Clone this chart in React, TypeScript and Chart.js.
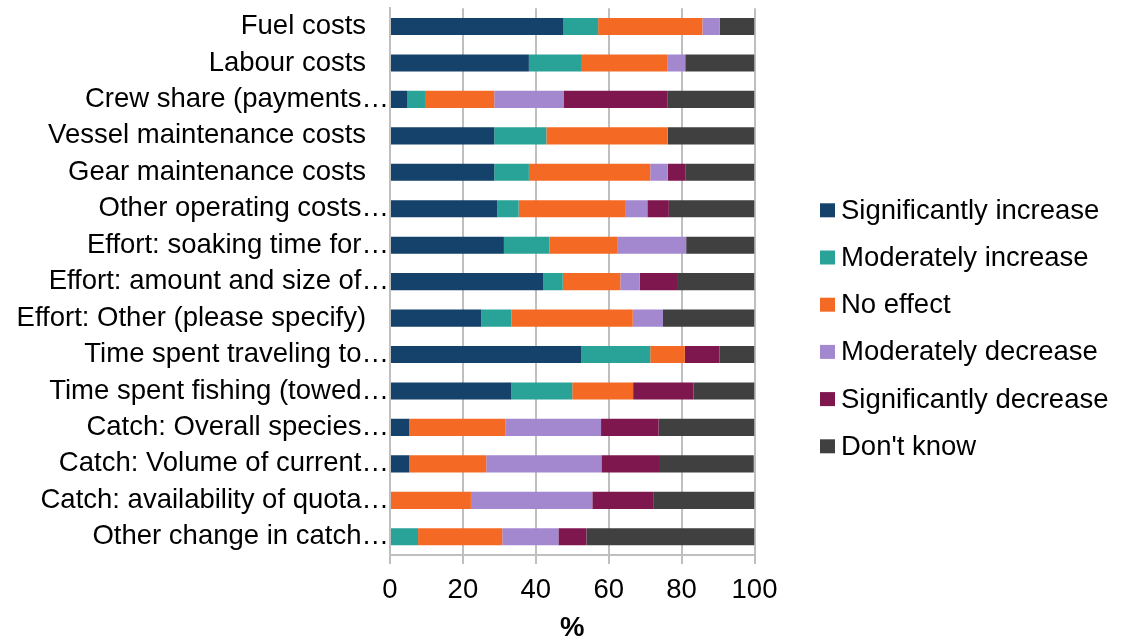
import React, { useEffect, useRef } from 'react';
import { Chart, registerables } from 'chart.js';

Chart.register(...registerables);

const FONT = '"Liberation Sans", Arial, Helvetica, sans-serif';

const categories = [
  'Fuel costs',
  'Labour costs',
  'Crew share (payments…',
  'Vessel maintenance costs',
  'Gear maintenance costs',
  'Other operating costs…',
  'Effort: soaking time for…',
  'Effort: amount and size of…',
  'Effort: Other (please specify)',
  'Time spent traveling to…',
  'Time spent fishing (towed…',
  'Catch: Overall species…',
  'Catch: Volume of current…',
  'Catch: availability of quota…',
  'Other change in catch…',
];

const seriesNames = [
  'Significantly increase',
  'Moderately increase',
  'No effect',
  'Moderately decrease',
  'Significantly decrease',
  "Don't know",
];

const significantlyIncrease = [47.6, 38.1, 4.8, 28.6, 28.6, 29.4, 31.25, 42.1, 25.0, 52.4, 33.3, 5.3, 5.3, 0, 0];
const moderatelyIncrease = [9.5, 14.3, 4.8, 14.3, 9.5, 5.9, 12.5, 5.3, 8.3, 19.0, 16.7, 0, 0, 0, 7.7];
const noEffect = [28.6, 23.8, 19.0, 33.3, 33.3, 29.4, 18.75, 15.8, 33.3, 9.5, 16.7, 26.3, 21.1, 22.2, 23.1];
const moderatelyDecrease = [4.8, 4.8, 19.0, 0, 4.8, 5.9, 18.75, 5.3, 8.3, 0, 0, 26.3, 31.6, 33.3, 15.4];
const significantlyDecrease = [0, 0, 28.6, 0, 4.8, 5.9, 0, 10.5, 0, 9.5, 16.6, 15.8, 15.8, 16.7, 7.7];
const dontKnow = [9.5, 19.0, 23.8, 23.8, 19.0, 23.5, 18.75, 21.0, 25.1, 9.6, 16.7, 26.3, 26.0, 27.8, 46.1];

const seriesValues = [
  significantlyIncrease,
  moderatelyIncrease,
  noEffect,
  moderatelyDecrease,
  significantlyDecrease,
  dontKnow,
];

const seriesColors = ['#14426B', '#29A397', '#F46A25', '#A388D0', '#7F174F', '#404040'];

const xMin = 0;
const xMax = 100;
const xStep = 20;
const xTitle = '%';

const sideLegend = {
  id: 'sideLegend',
  afterDraw(chart: any) {
    const ctx = chart.ctx;
    const ds = chart.data.datasets;
    const x0 = chart.chartArea.right + 65.5;
    const step = 47.2;
    const yMid = 328.3;
    const yStart = yMid - (step * (ds.length - 1)) / 2;
    ctx.save();
    ctx.font = `27.5px ${FONT}`;
    ctx.textBaseline = 'middle';
    ctx.textAlign = 'left';
    ds.forEach((d: any, i: number) => {
      const y = yStart + i * step;
      ctx.fillStyle = d.backgroundColor;
      ctx.fillRect(x0, y - 7, 15, 14);
      ctx.fillStyle = '#000000';
      ctx.fillText(d.label, x0 + 21, y + 1);
    });
    ctx.restore();
  },
};

export default function App() {
  const canvasRef = useRef<HTMLCanvasElement | null>(null);

  useEffect(() => {
    if (!canvasRef.current) return;
    const chart = new Chart(canvasRef.current, {
      type: 'bar',
      data: {
        labels: categories,
        datasets: seriesNames.map((name, i) => ({
          label: name,
          data: seriesValues[i],
          backgroundColor: seriesColors[i],
          borderWidth: 0,
          barPercentage: 0.47,
          categoryPercentage: 1,
        })),
      },
      options: {
        indexAxis: 'y',
        responsive: true,
        maintainAspectRatio: false,
        animation: false,
        layout: { padding: { top: 8.3, right: 369.5, left: 0, bottom: 0 } },
        plugins: {
          legend: { display: false },
          tooltip: { enabled: false },
        },
        scales: {
          x: {
            stacked: true,
            min: xMin,
            max: xMax,
            ticks: {
              stepSize: xStep,
              color: '#000000',
              font: { family: FONT, size: 27.5 },
              padding: 10,
              maxRotation: 0,
            },
            grid: { color: '#BFBFBF', lineWidth: 2, tickLength: 9, drawTicks: true },
            border: { color: '#BFBFBF', width: 2 },
            title: {
              display: true,
              text: xTitle,
              color: '#000000',
              font: { family: FONT, size: 27.5, weight: 'bold', lineHeight: 1 },
              padding: { top: 0, bottom: 0 },
            },
            afterFit: (s: any) => {
              s.height = 87;
            },
          },
          y: {
            stacked: true,
            grid: { display: false },
            border: { display: true, color: '#BFBFBF', width: 2 },
            ticks: {
              color: '#000000',
              font: { family: FONT, size: 27.5, lineHeight: 0.5 },
              padding: -7,
              autoSkip: false,
              callback: (_v: any, i: number) => {
                const l = categories[i];
                return l.endsWith('…') ? l : l + '   ';
              },
            },
            afterFit: (s: any) => {
              s.width = 390;
            },
          },
        },
      } as any,
      plugins: [sideLegend],
    });
    return () => chart.destroy();
  }, []);

  return (
    <div style={{ position: 'fixed', left: 0, top: 0, width: '1124px', height: '642px' }}>
      <canvas ref={canvasRef} />
    </div>
  );
}
